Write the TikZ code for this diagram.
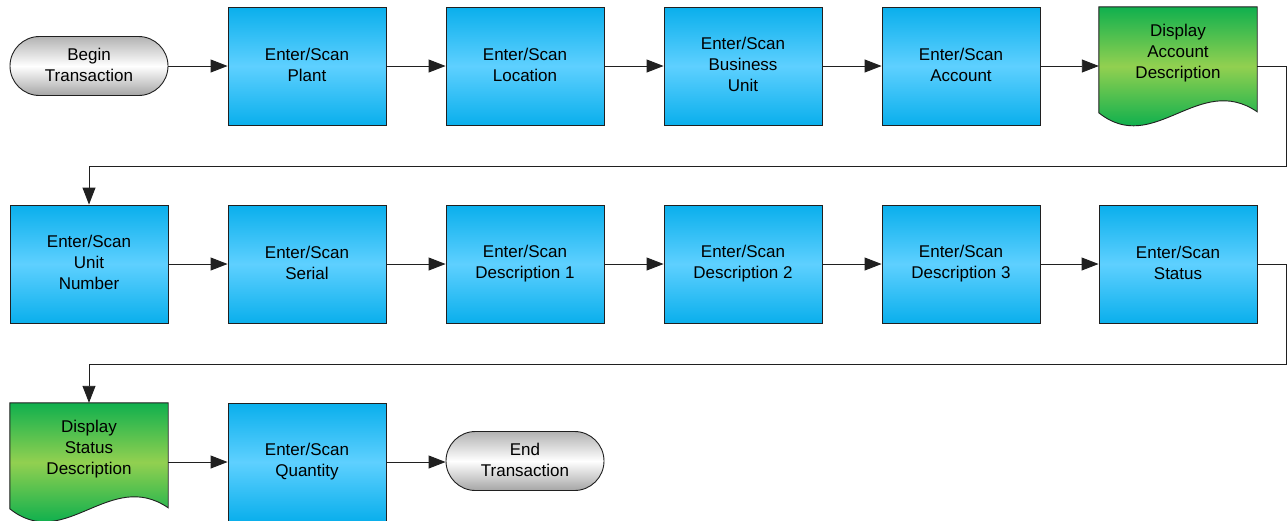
\documentclass[tikz,border=0pt]{standalone}
\usepackage{fontspec}
\setmainfont{Liberation Sans}
\usetikzlibrary{arrows.meta,calc,backgrounds}
\definecolor{bluedark}{HTML}{0AAFEC}
\definecolor{bluelight}{HTML}{5ED0FF}
\definecolor{greendark}{HTML}{10B04E}
\definecolor{greenlight}{HTML}{92D050}
\definecolor{edgec}{HTML}{202020}
\definecolor{linec}{HTML}{202020}
\newcommand{\mystrut}{\rule[-3.3pt]{0pt}{21pt}}
\tikzset{
  every node/.style={font=\fontsize{17}{21}\selectfont, align=center, inner sep=0pt,
    execute at begin node=\mystrut, execute at end node=\mystrut},
  procbox/.style={draw=edgec, line width=0.9pt, minimum width=158pt, minimum height=118pt,
    top color=bluedark, bottom color=bluedark, middle color=bluelight},
  termbox/.style={draw=edgec, line width=0.9pt, minimum width=158pt, minimum height=59pt,
    rounded corners=29.5pt, top color=gray!60, bottom color=gray!70, middle color=white},
  docnode/.style={minimum width=158pt, minimum height=92pt},
  docline/.style={draw=edgec, line width=0.9pt},
  docfill/.style={top color=greendark, bottom color=greendark, middle color=greenlight},
  arr/.style={draw=linec, line width=0.9pt, -{Triangle[length=17pt,width=13pt]}},
}
\newcommand{\docoutline}[1]{(#1.north west) -- (#1.north east) -- ($(#1.north east)+(0,105)$)
    .. controls ($(#1.north west)+(100,65)$) and ($(#1.north west)+(55,150)$) .. ($(#1.north west)+(0,106)$) -- cycle}
\newcommand{\docpath}[1]{%
  \begin{scope}
  \clip \docoutline{#1};
  \shade[docfill] (#1.north west) rectangle ($(#1.north east)+(0,119)$);
  \end{scope}
  \path[docline] \docoutline{#1};}
\begin{document}
\begin{tikzpicture}[x=1pt,y=-1pt]
\useasboundingbox (0,0) rectangle (1287,520);
\clip (0,0) rectangle (1287,520);
% row 1
\node[termbox] (bg) at (89,66) {Begin\\Transaction};
\node[procbox] (b1) at (307,66) {Enter/Scan\\Plant};
\node[procbox] (b2) at (525,66) {Enter/Scan\\Location};
\node[procbox] (b3) at (743,66) {Enter/Scan\\Business\\Unit};
\node[procbox] (b4) at (961,66) {Enter/Scan\\Account};
\node[docnode] (d1) at (1178,53) {Display\\Account\\Description};
% row 2
\node[procbox] (u)  at (89,264) {Enter/Scan\\Unit\\Number};
\node[procbox] (s1) at (307,264) {Enter/Scan\\Serial};
\node[procbox] (s2) at (525,264) {Enter/Scan\\Description 1};
\node[procbox] (s3) at (743,264) {Enter/Scan\\Description 2};
\node[procbox] (s4) at (961,264) {Enter/Scan\\Description 3};
\node[procbox] (st) at (1178,264) {Enter/Scan\\Status};
% row 3
\node[docnode] (d2) at (89,449) {Display\\Status\\Description};
\node[procbox] (q)  at (307,462) {Enter/Scan\\Quantity};
\node[termbox] (en) at (525,461) {End\\Transaction};
\begin{scope}[on background layer]
\docpath{d1}
\docpath{d2}
\end{scope}
% connectors
\draw[arr] (bg) -- (b1);
\draw[arr] (b1) -- (b2);
\draw[arr] (b2) -- (b3);
\draw[arr] (b3) -- (b4);
\draw[arr] (b4.east) -- (b4.east -| d1.west);
\coordinate (r1) at (1286,166);
\draw[arr] (b4.east -| d1.east) -| (r1) -| (u.north);
\draw[arr] (u) -- (s1);
\draw[arr] (s1) -- (s2);
\draw[arr] (s2) -- (s3);
\draw[arr] (s3) -- (s4);
\draw[arr] (s4) -- (st);
\coordinate (r2) at (1286,364);
\draw[arr] (st.east) -| (r2) -| (d2.north);
\draw[arr] (q.west -| d2.east) -- (q.west);
\draw[arr] (q.east) -- (q.east -| en.west);
\end{tikzpicture}
\end{document}
